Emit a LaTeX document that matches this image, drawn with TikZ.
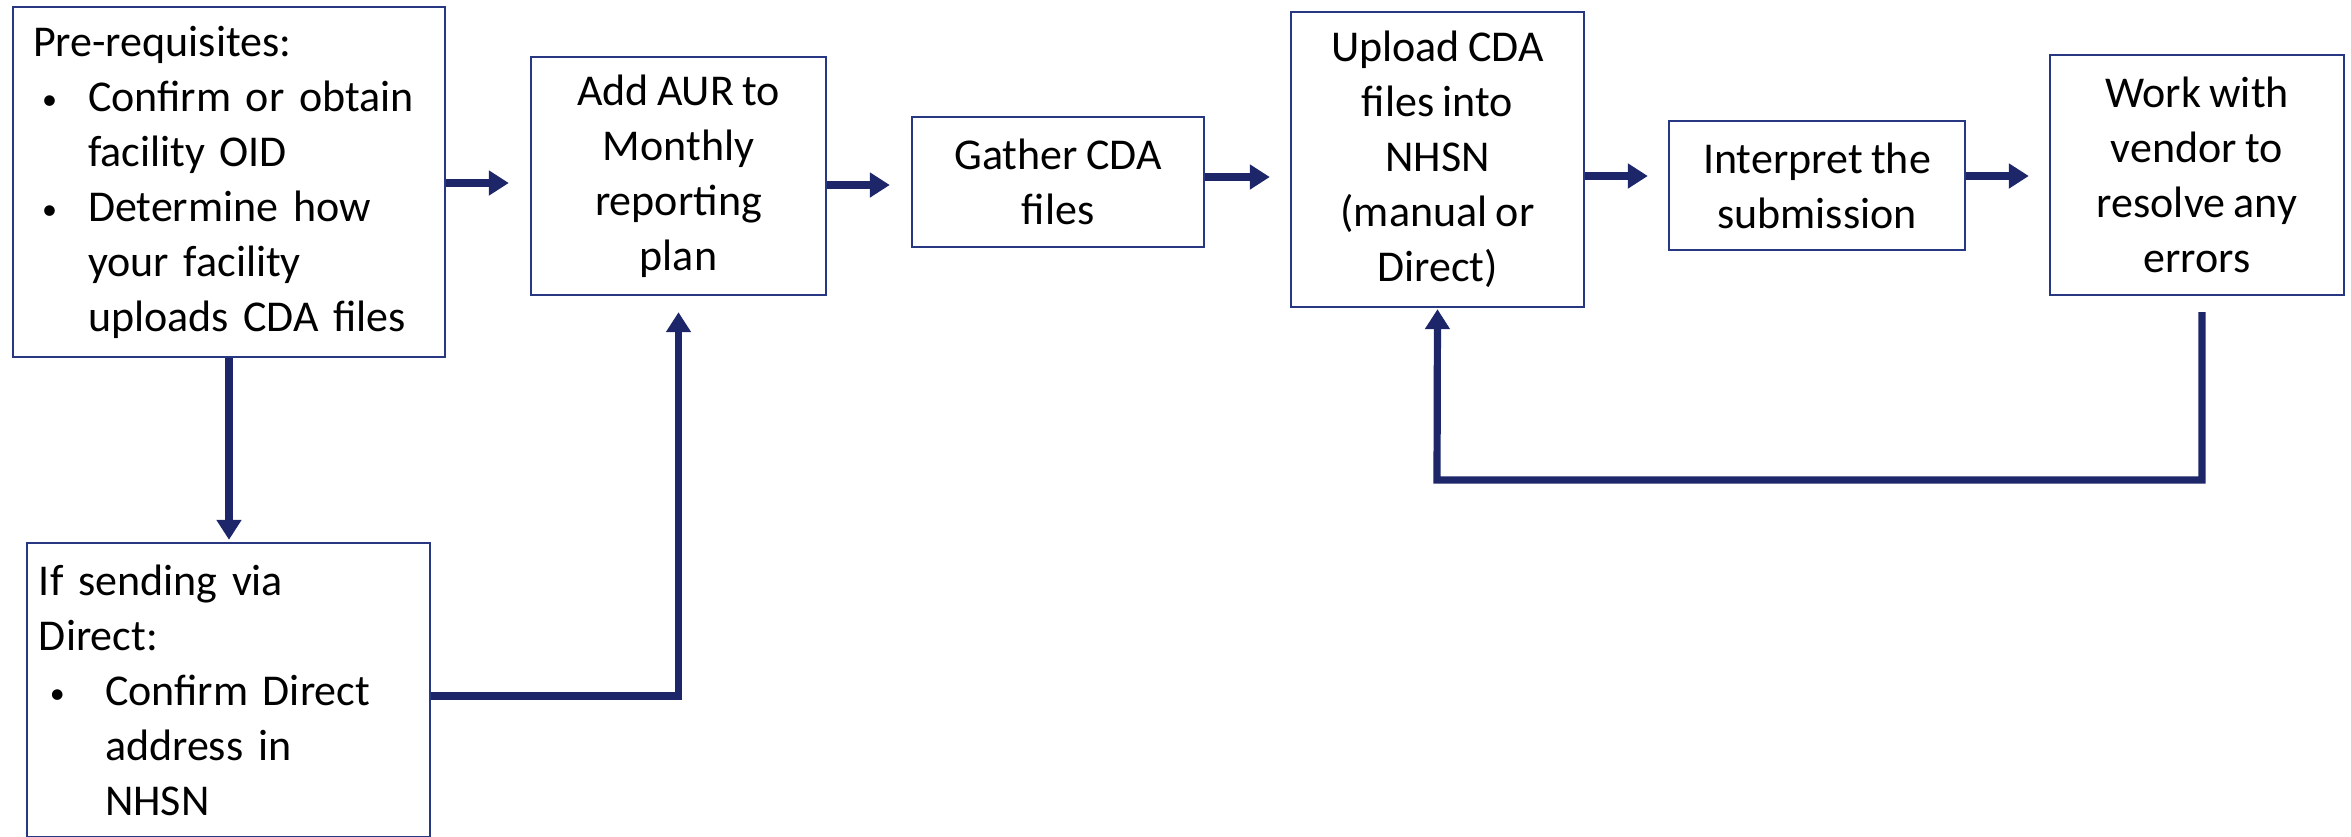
\documentclass[tikz,border=0pt]{standalone}
\usepackage{fontspec}
\setmainfont{Carlito}[WordSpace=0.85]
\usetikzlibrary{arrows.meta}
\definecolor{navy}{RGB}{28,38,105}
\definecolor{boxline}{RGB}{40,55,130}
\newcommand{\bul}{{\fontsize{15}{15}\selectfont\raisebox{1pt}{•}}}
\begin{document}
\begin{tikzpicture}[x=0.5pt,y=-0.5pt,
  box/.style={draw=boxline, line width=1.2pt, font=\fontsize{22}{27.5}\selectfont, align=center, inner sep=0pt},
  arr/.style={draw=navy, line width=3.6pt, -{Triangle[width=12pt,length=10pt]}}]
\useasboundingbox (0,0) rectangle (2351,836);

\node[box, minimum width=216pt, minimum height=175pt, align=left, text width=196pt] (pre) at (229,182)
 {Pre-requisites:\\
  \hspace*{4.5pt}\makebox[23pt][l]{\bul}Confirm or obtain\\
  \hspace*{27.5pt}facility OID\\
  \hspace*{4.5pt}\makebox[23pt][l]{\bul}Determine how\\
  \hspace*{27.5pt}your facility\\
  \hspace*{27.5pt}uploads CDA files};
\node[box, minimum width=147.5pt, minimum height=119pt] (aur) at (678.5,176)
 {Add AUR to\\Monthly\\reporting\\plan};
\node[box, minimum width=146pt, minimum height=65pt] (gather) at (1058,182)
 {Gather CDA\\files};
\node[box, minimum width=146.5pt, minimum height=147.5pt] (upl) at (1437.5,159.5)
 {Upload CDA\\files into\\NHSN\\(manual or\\Direct)};
\node[box, minimum width=148pt, minimum height=64.5pt] (interp) at (1817,185.5)
 {Interpret the\\submission};
\node[box, minimum width=147pt, minimum height=120pt] (work) at (2197,175)
 {Work with\\vendor to\\resolve any\\errors};
\node[box, minimum width=201.5pt, minimum height=147pt, align=left, text width=189.5pt] (dir) at (228.5,690)
 {If sending via\\
  Direct:\\
  \hspace*{5.5pt}\makebox[27.5pt][l]{\bul}Confirm Direct\\
  \hspace*{33pt}address in\\
  \hspace*{33pt}NHSN};

\coordinate (ls) at (2202,312);

\draw[arr, shorten >=10.5pt] (pre.east |- 0,183) -- (aur.west |- 0,183);
\draw[arr, shorten >=10.5pt] (aur.east |- 0,185) -- (gather.west |- 0,185);
\draw[arr, shorten >=10pt] (gather.east |- 0,177) -- (upl.west |- 0,177);
\draw[arr, shorten >=10pt] (upl.east |- 0,176) -- (interp.west |- 0,176);
\draw[arr, shorten >=10pt] (interp.east |- 0,176) -- (work.west |- 0,176);
\draw[arr, shorten >=1pt] (pre.south) -- (pre.south |- dir.north);
\draw[arr, shorten >=8pt] (dir.east |- 0,696) -| (aur.south);
\draw[arr, shorten >=0.5pt] (ls) |- (1437,480) -- (upl.south);
\end{tikzpicture}
\end{document}
